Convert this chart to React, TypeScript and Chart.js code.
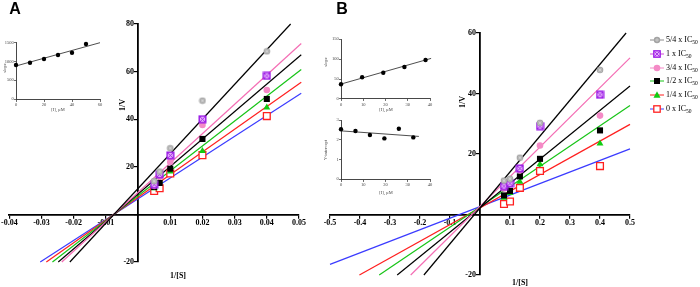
import React, { useEffect, useRef } from 'react';
import { Chart, registerables } from 'chart.js';

Chart.register(...registerables);

const W = 700;
const H = 287;

// ---------- Panel A main (Lineweaver-Burk) ----------
const A_INV_S = [0.005, 0.0067, 0.01, 0.02, 0.04];
const A_V_54 = [14, 18, 27.8, 47.8, 68.5];
const A_V_1 = [12.5, 16.8, 24.8, 40.0, 58.2];
const A_V_34 = [12, 15.8, 22, 37.6, 52.3];
const A_V_12 = [11.5, 13.2, 19.2, 31.7, 48.5];
const A_V_14 = [11, 14, 18, 26.6, 44.9];
const A_V_0 = [9.8, 11.0, 17.2, 24.9, 41.3];
const A_FIT_X_START = [-0.0212, -0.0237, -0.0248, -0.0266, -0.0285, -0.0304];
const A_FIT_Y_START = [-20, -20, -20, -20, -20, -20];
const A_FIT_X_END = [0.0474, 0.0507, 0.0507, 0.0507, 0.0507, 0.0507];
const A_FIT_Y_END = [80, 71.8, 67.1, 60.9, 55.5, 50.9];

// ---------- Panel B main ----------
const B_INV_S = [0.08, 0.1, 0.133, 0.2, 0.4];
const B_V_54 = [11.2, 11.8, 18.8, 30.3, 47.8];
const B_V_1 = [9.4, 10.3, 15.2, 29.2, 39.6];
const B_V_34 = [8.6, 10.1, 14.6, 22.8, 32.7];
const B_V_12 = [6.3, 7.8, 12.6, 18.4, 27.8];
const B_V_14 = [5.5, 7.1, 10.8, 16.6, 23.5];
const B_V_0 = [3.5, 4.3, 8.8, 14.4, 16.0];
const B_FIT_X_START = [-0.187, -0.231, -0.276, -0.336, -0.402, -0.5];
const B_FIT_Y_START = [-20, -20, -20, -20, -20, -16.5];
const B_FIT_X_END = [0.487, 0.5, 0.5, 0.5, 0.5, 0.5];
const B_FIT_Y_END = [60, 51.8, 42.5, 36, 29.8, 21.7];

// ---------- Insets ----------
const INSET_A_I = [0, 10, 20, 30, 40, 50];
const INSET_A_SLOPE = [906, 967, 1066, 1172, 1234, 1465];
const INSET_A_FIT_I = [0, 60];
const INSET_A_FIT_SLOPE = [880, 1500];

const INSET_B1_I = [0, 9.5, 19, 28.5, 38];
const INSET_B1_SLOPE = [37, 54.5, 66, 80.4, 98];
const INSET_B1_FIT_I = [0, 40.5];
const INSET_B1_FIT_SLOPE = [37.5, 102];

const INSET_B2_I = [0, 6.5, 13, 19.5, 26, 32.5];
const INSET_B2_YINT = [2.53, 2.44, 2.24, 2.07, 2.56, 2.12];
const INSET_B2_FIT_I = [0, 35];
const INSET_B2_FIT_YINT = [2.45, 2.17];

// ---------- Legend ----------
const LEGEND_PREFIX = ['5/4 x IC', '1 x IC', '3/4 x IC', '1/2 x IC', '1/4 x IC', '0 x IC'];
const LEGEND_SUB = '50';

const FIT_COLORS = ['#000000', '#f46db4', '#000000', '#17c417', '#ff1f1f', '#3b3bff'];
const LEGEND_LINE_COLORS = ['#8c8c8c', '#d04bd8', '#f58ac8', '#17c417', '#ff1f1f', '#3b3bff'];
const MARK_PINK = '#f48ac6';
const MARK_GREEN = '#11cc11';
const MARK_RED = '#ff2020';
const MARK_PURPLE = '#9a18e6';
const MARK_GREY = '#a3a3a3';

const SERIF = '"Liberation Serif", "Times New Roman", serif';
const EN_SPACE = '\u2002';

function zeroFit(scale: any) {
  if (scale.isHorizontal()) scale.height = 0;
  else scale.width = 0;
}

function pad(l: number, t: number, r: number, b: number) {
  return { left: l, top: t, right: W - r, bottom: H - b };
}

function makeGreyMarker() {
  const c = document.createElement('canvas');
  c.width = 8;
  c.height = 8;
  const g = c.getContext('2d')!;
  g.fillStyle = MARK_GREY;
  g.beginPath();
  g.arc(4, 4, 3.3, 0, Math.PI * 2);
  g.fill();
  g.strokeStyle = '#d8d8d8';
  g.lineWidth = 0.7;
  for (let k = 0; k < 4; k++) {
    const a = (k * Math.PI) / 4;
    g.beginPath();
    g.moveTo(4 + Math.cos(a) * 2.4, 4 + Math.sin(a) * 2.4);
    g.lineTo(4 - Math.cos(a) * 2.4, 4 - Math.sin(a) * 2.4);
    g.stroke();
  }
  return c;
}

function makePurpleMarker() {
  const c = document.createElement('canvas');
  c.width = 9;
  c.height = 9;
  const g = c.getContext('2d')!;
  g.fillStyle = '#e6b0fa';
  g.fillRect(1, 1, 7, 7);
  g.strokeStyle = MARK_PURPLE;
  g.lineWidth = 1.4;
  g.strokeRect(1.2, 1.2, 6.6, 6.6);
  g.lineWidth = 0.9;
  g.beginPath();
  g.moveTo(2, 2);
  g.lineTo(7, 7);
  g.moveTo(7, 2);
  g.lineTo(2, 7);
  g.stroke();
  return c;
}

function markerStyle(i: number, imgs: { grey: any; purple: any }) {
  switch (i) {
    case 0:
      return { pointStyle: imgs.grey, pointRadius: 4 };
    case 1:
      return { pointStyle: imgs.purple, pointRadius: 4 };
    case 2:
      return { pointStyle: 'circle', pointRadius: 3.3, backgroundColor: MARK_PINK, borderColor: MARK_PINK, borderWidth: 0 };
    case 3:
      return { pointStyle: 'rect', pointRadius: 4.3, backgroundColor: '#000', borderColor: '#000', borderWidth: 0 };
    case 4:
      return { pointStyle: 'triangle', pointRadius: 4, backgroundColor: MARK_GREEN, borderColor: MARK_GREEN, borderWidth: 0 };
    default:
      return { pointStyle: 'rect', pointRadius: 4.8, backgroundColor: '#fff', borderColor: MARK_RED, borderWidth: 1.3 };
  }
}

function mainConfig(p: any) {
  const imgs = { grey: makeGreyMarker(), purple: makePurpleMarker() };
  const marks = p.ys.map((ys: number[], i: number) => ({
    type: 'scatter',
    data: p.xs.map((x: number, j: number) => ({ x, y: ys[j] })),
    showLine: false,
    clip: false,
    ...markerStyle(i, imgs),
  }));
  const lines = p.fitXs.map((xs: number, i: number) => ({
    type: 'scatter',
    data: [
      { x: xs, y: p.fitYs[i] },
      { x: p.fitXe[i], y: p.fitYe[i] },
    ],
    showLine: true,
    pointRadius: 0,
    borderColor: FIT_COLORS[i],
    borderWidth: 1.2,
    clip: false,
  }));
  const tickFont = { family: SERIF, size: 8, weight: 'bold' as const };
  return {
    type: 'scatter',
    data: { datasets: [...marks, ...lines] },
    options: {
      responsive: false,
      animation: false,
      events: [],
      layout: { padding: p.area, autoPadding: false },
      plugins: { legend: { display: false }, tooltip: { enabled: false } },
      scales: {
        x: {
          type: 'linear',
          min: p.xMin,
          max: p.xMax,
          position: { y: 0 },
          afterFit: zeroFit,
          ticks: {
            stepSize: p.xStep,
            autoSkip: false,
            maxRotation: 0,
            padding: 1,
            color: '#000',
            font: tickFont,
            callback: (v: any) => (Math.abs(Number(v)) < 1e-9 ? '' : Number(v).toFixed(p.xDigits)),
          },
          grid: { drawOnChartArea: false, drawTicks: true, tickLength: 3, color: '#000', lineWidth: 1.2 },
          border: { display: true, color: '#000', width: 1.8 },
        },
        y: {
          type: 'linear',
          min: p.yMin,
          max: p.yMax,
          position: { x: 0 },
          afterFit: zeroFit,
          ticks: {
            stepSize: p.yStep,
            autoSkip: false,
            padding: 1,
            color: '#000',
            font: tickFont,
            callback: (v: any) => (Math.abs(Number(v)) < 1e-9 ? '' : String(v) + EN_SPACE),
          },
          grid: { drawOnChartArea: false, drawTicks: true, tickLength: 3, color: '#000', lineWidth: 1.2 },
          border: { display: true, color: '#000', width: 1.8 },
        },
      },
    },
  };
}

function insetConfig(p: any) {
  const tickFont = { family: SERIF, size: 4.5 };
  return {
    type: 'scatter',
    data: {
      datasets: [
        {
          type: 'scatter',
          data: p.xs.map((x: number, j: number) => ({ x, y: p.ys[j] })),
          pointRadius: 2.2,
          pointStyle: 'circle',
          backgroundColor: '#000',
          borderColor: '#000',
          borderWidth: 0,
          clip: false,
        },
        {
          type: 'scatter',
          data: p.fx.map((x: number, j: number) => ({ x, y: p.fy[j] })),
          showLine: true,
          pointRadius: 0,
          borderColor: '#3a3a3a',
          borderWidth: 0.9,
          clip: false,
        },
      ],
    },
    options: {
      responsive: false,
      animation: false,
      events: [],
      layout: { padding: p.area, autoPadding: false },
      plugins: { legend: { display: false }, tooltip: { enabled: false } },
      scales: {
        x: {
          type: 'linear',
          position: { y: p.yMin },
          min: p.xMin,
          max: p.xMax,
          afterFit: zeroFit,
          ticks: { stepSize: p.xStep, autoSkip: false, maxRotation: 0, padding: 1, color: '#444', font: tickFont },
          grid: { drawOnChartArea: false, drawTicks: true, tickLength: 2, color: '#444', lineWidth: 0.8 },
          border: { display: true, color: '#333', width: 0.9 },
        },
        y: {
          type: 'linear',
          position: { x: p.xMin },
          min: p.yMin,
          max: p.yMax,
          afterFit: zeroFit,
          ticks: {
            stepSize: p.yStep,
            autoSkip: false,
            padding: 1,
            color: '#444',
            font: tickFont,
            callback: (v: any) => String(v) + EN_SPACE,
          },
          grid: { drawOnChartArea: false, drawTicks: true, tickLength: 2, color: '#444', lineWidth: 0.8 },
          border: { display: true, color: '#333', width: 0.9 },
        },
      },
    },
  };
}

function ChartLayer({ make }: { make: () => any }) {
  const ref = useRef<HTMLCanvasElement | null>(null);
  useEffect(() => {
    if (!ref.current) return;
    const chart = new Chart(ref.current, make());
    return () => chart.destroy();
  }, []);
  return (
    <canvas
      ref={ref}
      width={W}
      height={H}
      style={{ position: 'absolute', left: 0, top: 0, width: W, height: H }}
    />
  );
}

function Label({ x, y, text, size, bold, rotate, color, family }: any) {
  return (
    <div
      style={{
        position: 'absolute',
        left: x,
        top: y,
        transform: `translate(-50%, -50%)${rotate ? ' rotate(-90deg)' : ''}`,
        whiteSpace: 'nowrap',
        fontFamily: family || SERIF,
        fontSize: size,
        fontWeight: bold ? 'bold' : 'normal',
        color: color || '#000',
        lineHeight: 1,
      }}
    >
      {text}
    </div>
  );
}

function LegendMarker({ i }: { i: number }) {
  let mark: any = null;
  if (i === 0)
    mark = (
      <g>
        <circle cx={7} cy={5} r={3.2} fill={MARK_GREY} />
        <line x1={5} y1={5} x2={9} y2={5} stroke="#d8d8d8" strokeWidth={0.7} />
        <line x1={7} y1={3} x2={7} y2={7} stroke="#d8d8d8" strokeWidth={0.7} />
      </g>
    );
  else if (i === 1)
    mark = (
      <g>
        <rect x={3.8} y={1.8} width={6.4} height={6.4} fill="#e6b0fa" stroke={MARK_PURPLE} strokeWidth={1.3} />
        <line x1={4.5} y1={2.5} x2={9.5} y2={7.5} stroke={MARK_PURPLE} strokeWidth={0.8} />
        <line x1={9.5} y1={2.5} x2={4.5} y2={7.5} stroke={MARK_PURPLE} strokeWidth={0.8} />
      </g>
    );
  else if (i === 2) mark = <circle cx={7} cy={5} r={3.3} fill={MARK_PINK} />;
  else if (i === 3) mark = <rect x={4} y={2} width={6} height={6} fill="#000" />;
  else if (i === 4) mark = <polygon points="7,1.2 10.5,7.8 3.5,7.8" fill={MARK_GREEN} />;
  else mark = <rect x={3.8} y={1.8} width={6.4} height={6.4} fill="#fff" stroke={MARK_RED} strokeWidth={1.3} />;
  return (
    <svg width={14} height={10} style={{ position: 'absolute', left: 0, top: 0 }}>
      <line x1={0} y1={5} x2={14} y2={5} stroke={LEGEND_LINE_COLORS[i]} strokeWidth={1} />
      {mark}
    </svg>
  );
}

const LEGEND_ROW_Y = [40, 54, 67.5, 81, 95, 109];

export default function App() {
  const makeA = () =>
    mainConfig({
      xs: A_INV_S,
      ys: [A_V_54, A_V_1, A_V_34, A_V_12, A_V_14, A_V_0],
      fitXs: A_FIT_X_START,
      fitYs: A_FIT_Y_START,
      fitXe: A_FIT_X_END,
      fitYe: A_FIT_Y_END,
      xMin: -0.04,
      xMax: 0.05,
      xStep: 0.01,
      xDigits: 2,
      yMin: -20,
      yMax: 80,
      yStep: 20,
      area: pad(7, 24, 299, 262),
    });
  const makeB = () =>
    mainConfig({
      xs: B_INV_S,
      ys: [B_V_54, B_V_1, B_V_34, B_V_12, B_V_14, B_V_0],
      fitXs: B_FIT_X_START,
      fitYs: B_FIT_Y_START,
      fitXe: B_FIT_X_END,
      fitYe: B_FIT_Y_END,
      xMin: -0.5,
      xMax: 0.5,
      xStep: 0.1,
      xDigits: 1,
      yMin: -20,
      yMax: 60,
      yStep: 20,
      area: pad(330, 33, 630, 275),
    });
  const makeIA = () =>
    insetConfig({
      xs: INSET_A_I,
      ys: INSET_A_SLOPE,
      fx: INSET_A_FIT_I,
      fy: INSET_A_FIT_SLOPE,
      xMin: 0,
      xMax: 60,
      xStep: 20,
      yMin: 0,
      yMax: 1500,
      yStep: 500,
      area: pad(16, 42.7, 100, 99),
    });
  const makeIB1 = () =>
    insetConfig({
      xs: INSET_B1_I,
      ys: INSET_B1_SLOPE,
      fx: INSET_B1_FIT_I,
      fy: INSET_B1_FIT_SLOPE,
      xMin: 0,
      xMax: 40,
      xStep: 10,
      yMin: 0,
      yMax: 150,
      yStep: 50,
      area: pad(341, 39.3, 430, 99),
    });
  const makeIB2 = () =>
    insetConfig({
      xs: INSET_B2_I,
      ys: INSET_B2_YINT,
      fx: INSET_B2_FIT_I,
      fy: INSET_B2_FIT_YINT,
      xMin: 0,
      xMax: 40,
      xStep: 10,
      yMin: 0,
      yMax: 3,
      yStep: 1,
      area: pad(341, 120, 430, 179.3),
    });

  return (
    <div
      style={{
        position: 'fixed',
        left: 0,
        top: 0,
        width: W,
        height: H,
        background: '#fff',
        overflow: 'hidden',
      }}
    >
      <ChartLayer make={makeA} />
      <ChartLayer make={makeB} />
      <ChartLayer make={makeIA} />
      <ChartLayer make={makeIB1} />
      <ChartLayer make={makeIB2} />

      <Label x={15} y={9} text="A" size={16} bold family='"Liberation Sans", Arial, sans-serif' />
      <Label x={342} y={9} text="B" size={16} bold family='"Liberation Sans", Arial, sans-serif' />

      <Label x={123} y={105} text="1/V" size={8} bold rotate />
      <Label x={178} y={276} text="1/[S]" size={8} bold />
      <Label x={463} y={102} text="1/V" size={8} bold rotate />
      <Label x={520} y={283} text="1/[S]" size={8} bold />

      <Label x={5} y={68} text="slope" size={4.5} rotate color="#444" />
      <Label x={58} y={110} text="[I], µM" size={4.5} color="#444" />
      <Label x={326} y={62} text="slope" size={4.5} rotate color="#444" />
      <Label x={386} y={110} text="[I], µM" size={4.5} color="#444" />
      <Label x={326} y={150} text="Y-intercept" size={4.5} rotate color="#444" />
      <Label x={386} y={193} text="[I], µM" size={4.5} color="#444" />

      {LEGEND_PREFIX.map((t, i) => (
        <div
          key={i}
          style={{ position: 'absolute', left: 650, top: LEGEND_ROW_Y[i] - 5, height: 10, width: 60 }}
        >
          <LegendMarker i={i} />
          <div
            style={{
              position: 'absolute',
              left: 16,
              top: 0,
              fontFamily: SERIF,
              fontSize: 8,
              lineHeight: '10px',
              whiteSpace: 'nowrap',
              color: '#000',
            }}
          >
            {t}
            <sub style={{ fontSize: 5.5, verticalAlign: -1.5, lineHeight: 0 }}>{LEGEND_SUB}</sub>
          </div>
        </div>
      ))}
    </div>
  );
}
